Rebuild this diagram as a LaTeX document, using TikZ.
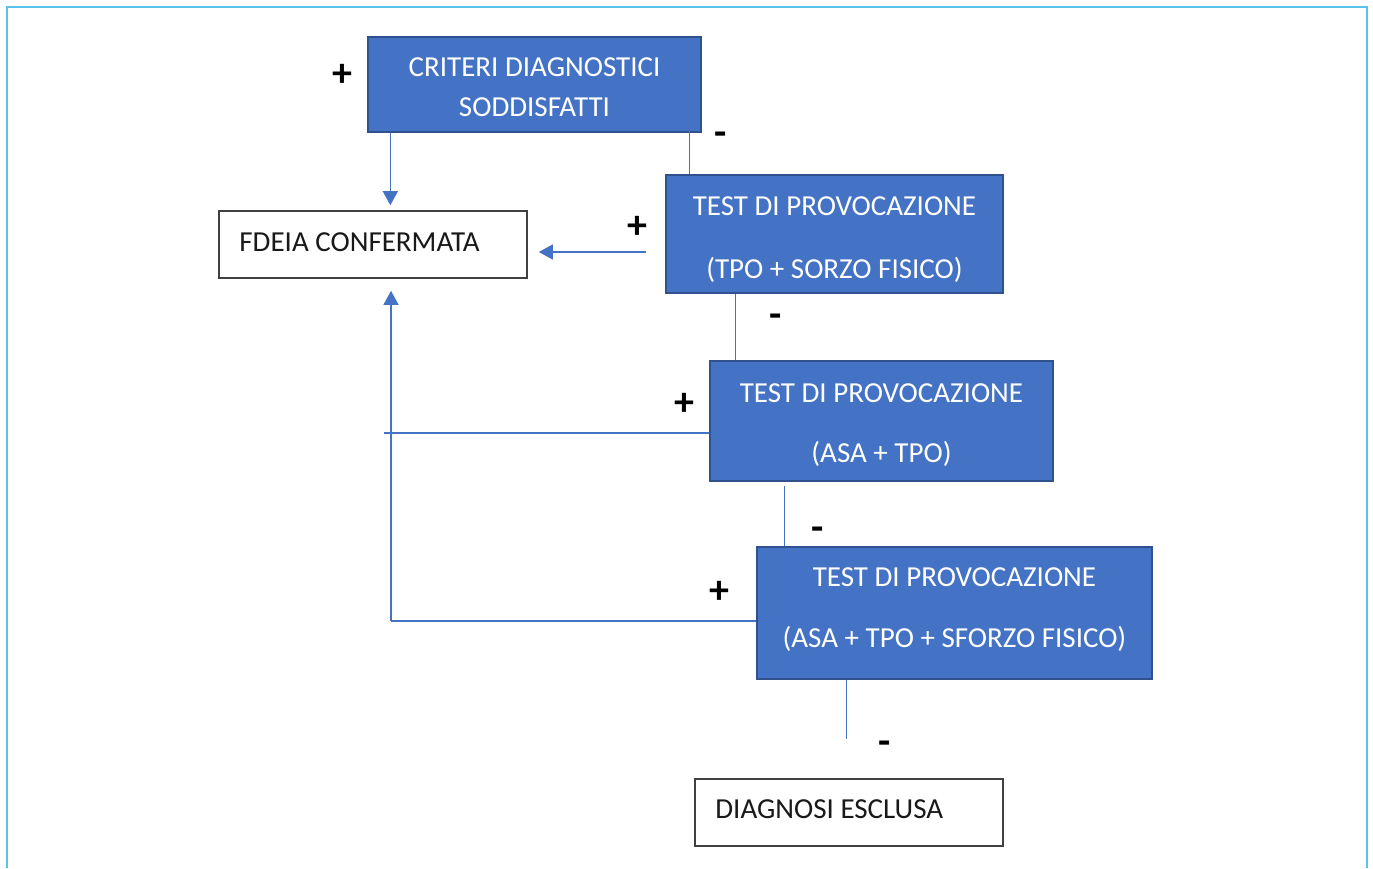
\documentclass[tikz,border=0pt]{standalone}
\usepackage{fontspec}
\setmainfont{Carlito}
\usepackage{xcolor}
\usepackage{tikz}
\usetikzlibrary{arrows.meta}
\definecolor{boxblue}{HTML}{4472C4}
\definecolor{boxedge}{HTML}{2F528F}
\definecolor{framecyan}{HTML}{5BC2EE}
\tikzset{
    outerline/.style={draw=framecyan, line width=2pt},
    testbox/.style={draw=boxedge, line width=1.3pt, fill=boxblue, inner sep=0pt},
    boxtext/.style={text=white, align=center, inner sep=0pt},
    endbox/.style={draw=black!75, line width=1.6pt, fill=white, inner sep=0pt, minimum width=308pt, minimum height=67pt},
    endtext/.style={anchor=west, xshift=21pt, inner sep=0pt, text=black!90, font=\fontsize{29}{35}\selectfont},
    link/.style={draw=boxblue, line width=1.3pt},
    arrow/.style={link, -{Triangle[length=14pt,width=15pt]}},
    sign/.style={font=\fontsize{40}{40}\selectfont\bfseries, inner sep=0pt}
}
\begin{document}
\begin{tikzpicture}[x=1pt, y=-1pt]
\useasboundingbox (0,0) rectangle (1373,868);
% outer frame (open at the bottom)
\draw[outerline] (6.5,868) -- (6.5,6.5) -- (1367,6.5) -- (1367,868);

% Boxes
\node[testbox, minimum width=333pt, minimum height=95pt,
      label={[name=crittext, boxtext, font=\fontsize{29}{40}\selectfont, yshift=-3pt]center:{CRITERI DIAGNOSTICI\\SODDISFATTI}}] (crit) at (534.5,84.5) {};
\node[endbox, label={[name=fdeiatext, endtext, yshift=2pt]west:FDEIA CONFERMATA}] (fdeia) at (373,244.5) {};
\node[testbox, minimum width=337pt, minimum height=118pt,
      label={[name=tpotext, boxtext, font=\fontsize{29}{63}\selectfont, yshift=-5.5pt]center:{TEST DI PROVOCAZIONE\\(TPO + SORZO FISICO)}}] (tpo) at (834.5,234) {};
\node[testbox, minimum width=343pt, minimum height=120pt,
      label={[name=asatext, boxtext, font=\fontsize{29}{60}\selectfont, yshift=-4.5pt]center:{TEST DI PROVOCAZIONE\\(ASA + TPO)}}] (asa) at (881.5,421) {};
\node[testbox, minimum width=395pt, minimum height=132pt,
      label={[name=sforzotext, boxtext, font=\fontsize{29}{61}\selectfont, yshift=3pt]center:{TEST DI PROVOCAZIONE\\(ASA + TPO + SFORZO FISICO)}}] (sforzo) at (954.5,613) {};
\node[endbox, label={[name=escltext, endtext, yshift=3pt]west:DIAGNOSI ESCLUSA}] (escl) at (849,812.5) {};

% Positive results: back to FDEIA CONFERMATA
\coordinate (corner) at (391,621);
\draw[arrow] ([xshift=23pt]crit.south west) -- ([xshift=23pt,yshift=5pt]crit.south west |- fdeia.north);
\draw[arrow] ([xshift=-19pt,yshift=-18pt]tpo.west) -- ([xshift=11pt,yshift=-7.5pt]fdeia.east);
\draw[link] ([yshift=-12pt]asa.west) -- ([xshift=-7pt,yshift=-12pt]asa.west -| corner);
\draw[link, line width=2.4pt] ([yshift=-8pt]sforzo.west) -- (corner);
\draw[arrow] (corner) -- ([yshift=-12pt]corner |- fdeia.south);

% Negative results: next test
\draw[link] ([xshift=-12pt,yshift=24pt]crit.south east) -- ([xshift=-12pt]crit.south east |- tpo.north);
\draw[link] ([xshift=70pt]tpo.south west) -- ([xshift=70pt]tpo.south west |- asa.north);
\draw[link] ([xshift=75pt,yshift=-4pt]asa.south west) -- ([xshift=75pt]asa.south west |- sforzo.north);
\draw[link] ([xshift=90pt]sforzo.south west) -- ([xshift=90pt,yshift=39pt]sforzo.south west |- escl.north);

% Signs
\node[sign] (p1) at (342,75) {+};
\node[sign] (m1) at (721,139) {-};
\node[sign] (p2) at (637,227) {+};
\node[sign] (m2) at (776,321) {-};
\node[sign] (p3) at (684,404) {+};
\node[sign] (m3) at (818,534) {-};
\node[sign] (p4) at (719,592) {+};
\node[sign] (m4) at (885,748) {-};
\end{tikzpicture}
\end{document}
